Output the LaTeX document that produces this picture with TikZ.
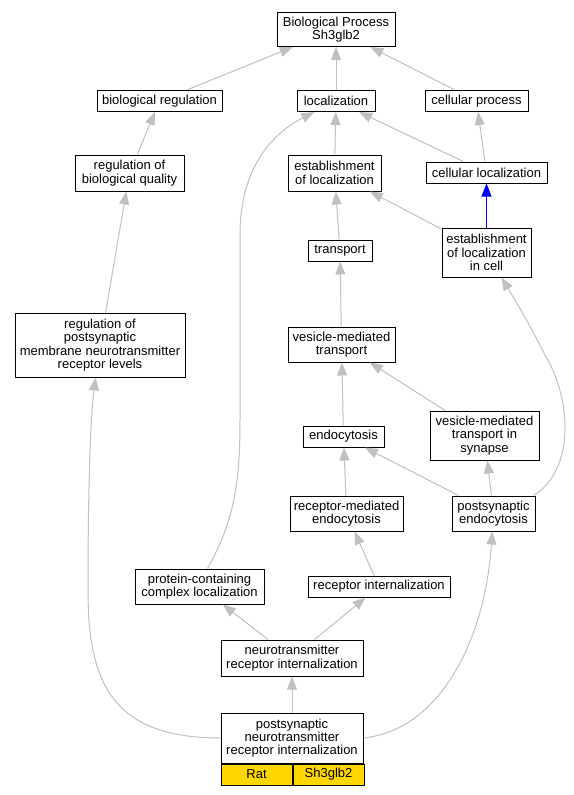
\documentclass[tikz,border=0pt]{standalone}
\usepackage{fontspec}
\setmainfont{Liberation Sans}
\usetikzlibrary{arrows.meta,positioning}
\definecolor{linkgray}{RGB}{192,192,192}
\definecolor{cellgold}{RGB}{255,215,0}
\begin{document}
\begin{tikzpicture}[x=1pt, y=-1pt,
  term/.style={draw=black, line width=1pt, fill=white, align=center, inner sep=1pt,
    font=\fontsize{13}{13.3}\selectfont},
  box/.style 2 args={minimum width=#1pt, minimum height=#2pt},
  cell/.style={term, fill=cellgold, minimum width=71pt, minimum height=21pt},
  link/.style={draw=linkgray, line width=1pt, -{Triangle[length=13pt,width=10pt]}},
  bluelink/.style={link, draw=blue}
]
\useasboundingbox (0,0) rectangle (573,795);

\node[term, box={118}{34}] (bp)      at (336,29.5)  {Biological Process\\Sh3glb2};
\node[term, box={125}{21}] (breg)    at (159.5,101) {biological regulation};
\node[term, box={78}{21}]  (loc)     at (336,101)   {localization};
\node[term, box={103}{21}] (cproc)   at (476.5,101) {cellular process};
\node[term, box={109}{36}] (rbq)     at (129.5,173) {regulation of\\biological quality};
\node[term, box={93}{36}]  (estloc)  at (334.5,173) {establishment\\of localization};
\node[term, box={121}{21}] (cloc)    at (486.5,172.5) {cellular localization};
\node[term, box={64}{21}]  (transp)  at (340,250.5) {transport};
\node[term, box={89}{49}]  (estcell) at (486.5,252.5) {establishment\\of localization\\in cell};
\node[term, box={170}{64}] (rpost)   at (100,345)   {regulation of\\postsynaptic\\membrane neurotransmitter\\receptor levels};
\node[term, box={107}{35}] (vmt)     at (341.5,344.5) {vesicle-mediated\\transport};
\node[term, box={81}{21}]  (endo)    at (343.5,436.5) {endocytosis};
\node[term, box={109}{49}] (vmts)    at (484.5,435.5) {vesicle-mediated\\transport in\\synapse};
\node[term, box={113}{35}] (rme)     at (346.5,513.5) {receptor-mediated\\endocytosis};
\node[term, box={83}{35}]  (pse)     at (493.5,513.5) {postsynaptic\\endocytosis};
\node[term, box={129}{35}] (pcl)     at (199.5,586.5) {protein-containing\\complex localization};
\node[term, box={142}{21}] (rint)    at (379,586.5) {receptor internalization};
\node[term, box={142}{36}] (nri)     at (292,658)   {neurotransmitter\\receptor internalization};
\node[term, box={142}{50}] (bot)     at (292,738)   {postsynaptic\\neurotransmitter\\receptor internalization};
\node[cell, below right=0pt of bot.south west] (rat) {Rat};
\node[cell, right=0pt of rat] (gene) {Sh3glb2};

% is-a links
\draw[link] (breg) -- (bp);
\draw[link] (loc) -- (bp);
\draw[link] (cproc) -- (bp);
\draw[link] (rbq) -- (breg);
\draw[link] (estloc) -- (loc);
\draw[link] (cloc) -- (loc);
\draw[link] (cloc) -- (cproc);
\draw[bluelink] (estcell) -- (cloc);
\draw[link] (estcell) -- (estloc);
\draw[link] (transp) -- (estloc);
\draw[link] (vmt) -- (transp);
\draw[link] (rpost) -- (rbq);
\draw[link] (endo) -- (vmt);
\draw[link] (vmts) -- (vmt);
\draw[link] (rme) -- (endo);
\draw[link] (pse) -- (endo);
\draw[link] (pse) -- (vmts);
\draw[link] (rint) -- (rme);
\draw[link] (nri) -- (pcl);
\draw[link] (nri) -- (rint);
\draw[link] (bot) -- (nri);

% curved links
\draw[link] ([xshift=8pt]pcl.north) .. controls (235,520) and (240,480) .. (240,420)
  -- (240,235) .. controls (240,165) and (275,132) .. (loc);
\draw[link] (bot.west) .. controls (110,738) and (88,680) .. (88,590)
  .. controls (88,500) and (90,420) .. (rpost);
\draw[link] (bot.east) .. controls (440,730) and (485,640) .. (pse);
\draw[link] ([xshift=-2pt]pse.north east) .. controls (575,470) and (572,400) .. (545,355)
  .. controls (530,325) and (515,300) .. (estcell);
\end{tikzpicture}
\end{document}
